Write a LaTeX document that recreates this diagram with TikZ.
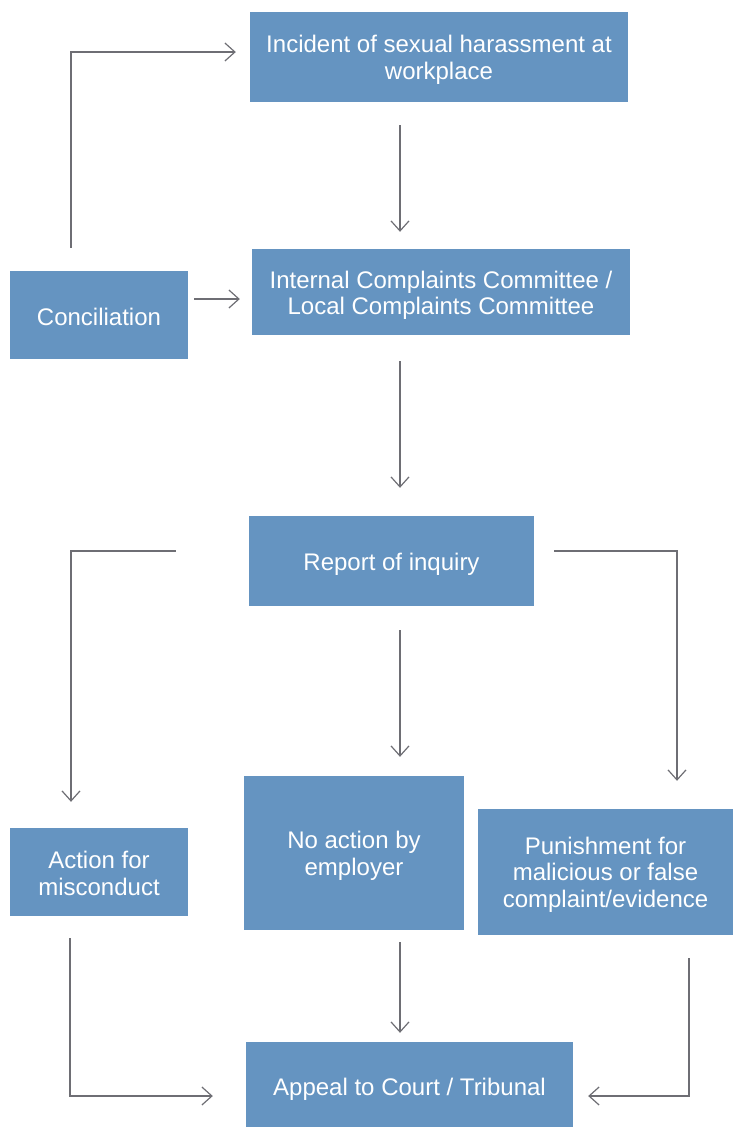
\documentclass[tikz,border=0pt]{standalone}
\usepackage{fontspec}
\setmainfont{Liberation Sans}
\usetikzlibrary{arrows.meta}
\definecolor{boxblue}{RGB}{101,148,193}
\definecolor{linegray}{RGB}{110,110,116}
\begin{document}
\begin{tikzpicture}[x=1pt,y=-1pt,
  flowbox/.style={fill=boxblue, draw=none, inner sep=0pt},
  txt/.style={text=white, align=center, inner sep=0pt, font=\fontsize{24}{26.5}\selectfont},
  arr/.style={draw=linegray, line width=1.2pt, -{Straight Barb[length=10pt,width=18pt,line width=1.2pt]}}
]
\useasboundingbox (0,0) rectangle (733,1128);
\node[flowbox, minimum width=378pt, minimum height=90pt,
  label={[txt, yshift=-3pt]center:{Incident of sexual harassment at\\workplace}}] (inc) at (439,57) {};
\node[flowbox, minimum width=378pt, minimum height=86pt,
  label={[txt, yshift=-3.5pt]center:{Internal Complaints Committee /\\Local Complaints Committee}}] (icc) at (441,292) {};
\node[flowbox, minimum width=178pt, minimum height=88pt,
  label={[txt, yshift=-1.5pt]center:{Conciliation}}] (conc) at (99,315) {};
\node[flowbox, minimum width=285pt, minimum height=90pt,
  label={[txt, yshift=-3pt]center:{Report of inquiry}}] (rep) at (391.5,561) {};
\node[flowbox, minimum width=178pt, minimum height=88pt,
  label={[txt, yshift=-1.5pt]center:{Action for\\misconduct}}] (act) at (99,872) {};
\node[flowbox, minimum width=220pt, minimum height=154pt,
  label={[txt, yshift=-3pt]center:{No action by\\employer}}] (noact) at (354,853) {};
\node[flowbox, minimum width=255pt, minimum height=126pt,
  label={[txt, yshift=-2.5pt]center:{Punishment for\\malicious or false\\complaint/evidence}}] (pun) at (605.5,872) {};
\node[flowbox, minimum width=327pt, minimum height=85pt,
  label={[txt, yshift=-5pt]center:{Appeal to Court / Tribunal}}] (app) at (409.5,1084.5) {};
\coordinate (cx) at (400,0);
\coordinate (cy) at (0,299);
% connectors
\draw[arr, shorten <=23pt, shorten >=14pt] ([xshift=-28pt]conc.north) |- ([yshift=5pt]inc.west);
\draw[arr, shorten <=23pt, shorten >=17pt] (inc.south -| cx) -- (icc.north -| cx);
\draw[arr, shorten <=6pt, shorten >=12pt] (conc.east |- cy) -- (icc.west |- cy);
\draw[arr, shorten <=26pt, shorten >=28pt] (icc.south -| cx) -- (rep.north -| cx);
\draw[arr, shorten <=73pt, shorten >=26pt] ([yshift=10pt]rep.west) -| ([xshift=-28pt]act.north);
\draw[arr, shorten <=24pt, shorten >=19pt] (rep.south -| cx) -- (noact.north -| cx);
\draw[arr, shorten <=20pt, shorten >=28pt] ([yshift=10pt]rep.east) -| ([xshift=71.5pt]pun.north);
\draw[arr, shorten <=22pt, shorten >=33pt] ([xshift=-29pt]act.south) |- ([yshift=-11.5pt]app.west);
\draw[arr, shorten <=12pt, shorten >=9pt] (noact.south -| cx) -- (app.north -| cx);
\draw[arr, shorten <=23pt, shorten >=15pt] ([xshift=83.5pt]pun.south) |- ([yshift=-11.5pt]app.east);
\end{tikzpicture}
\end{document}
